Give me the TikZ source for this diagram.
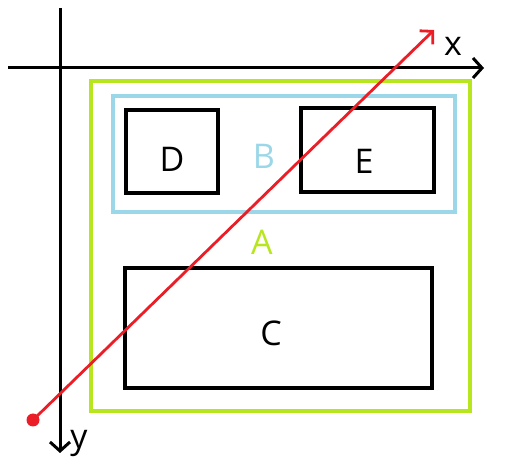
\documentclass[tikz,border=0pt]{standalone}
\usepackage{fontspec}
\setmainfont{Open Sans}
\usetikzlibrary{arrows.meta}
\definecolor{agreen}{RGB}{184,230,30}
\definecolor{bblue}{RGB}{155,215,232}
\definecolor{lred}{RGB}{235,30,40}
\tikzset{
  box/.style={draw=black,line width=3.5pt,inner sep=0pt},
  lbl/.style={font=\fontsize{34}{34}\selectfont,inner sep=0pt},
  axis/.style={draw=black,line width=3pt,-{Straight Barb[length=9pt,width=20pt,line width=3pt]}}
}
\begin{document}
\begin{tikzpicture}[x=1pt,y=-1pt]
\useasboundingbox (0,0) rectangle (512,470);
% axes
\coordinate (xs) at (8,68);
\coordinate (xe) at (484,68);
\coordinate (ys) at (60,8);
\coordinate (ye) at (60,453);
\draw[axis] (xs) -- (xe);
\draw[axis] (ys) -- (ye);
\node[lbl] (xl) at (453,46) {x};
\node[lbl] (yl) at (79,443) {y};
% boxes
\draw[draw=agreen,line width=3.5pt] (91,81) rectangle (470,411);
\draw[draw=bblue,line width=3.5pt] (113,96) rectangle (455,212);
\draw[box] (126,110) rectangle (218,193);
\draw[box] (301,108) rectangle (434,192);
\draw[box] (125,268) rectangle (432,388);
\node[lbl] (D) at (172,159) {D};
\node[lbl] (E) at (364,161) {E};
\node[lbl] (C) at (271,333) {C};
\node[lbl,text=bblue] (B) at (264,156) {B};
\node[lbl,text=agreen] (A) at (262,242) {A};
% red arrow
\coordinate (rs) at (33,420);
\coordinate (re) at (434,30);
\fill[lred] (rs) circle (6.5);
\draw[lred,line width=2.8pt,-{Straight Barb[length=9pt,width=19pt,line width=2.8pt]}] (rs) -- (re);
\end{tikzpicture}
\end{document}
